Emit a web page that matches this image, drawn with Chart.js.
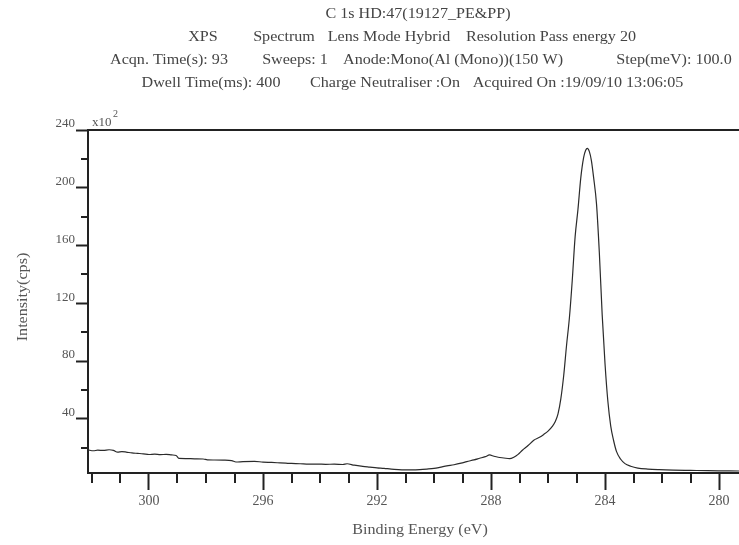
<!DOCTYPE html>
<html>
<head>
<meta charset="utf-8">
<script src="https://cdn.jsdelivr.net/npm/chart.js@4.4.1/dist/chart.umd.min.js"></script>
<style>
html, body { margin: 0; padding: 0; background: #fff; overflow: hidden; }
canvas { display: block; }
</style>
</head>
<body>
<canvas id="xpsChart" width="739" height="545"></canvas>
<script>
//Binding energy (eV)
const energy = [
    302.14, 301.95, 301.8, 301.6, 301.4, 301.25, 301.1, 300.95, 300.8, 300.6,
    300.4, 300.2, 300.0, 299.8, 299.6, 299.4, 299.2, 299.05, 298.95, 298.7,
    298.4, 298.1, 297.95, 297.7, 297.4, 297.1, 296.95, 296.7, 296.3, 296.0,
    295.7, 295.4, 295.2, 295.0, 294.7, 294.4, 294.1, 293.8, 293.5, 293.2,
    293.05, 292.8, 292.5, 292.25, 292.0, 291.75, 291.5, 291.25, 291.0, 290.75,
    290.5, 290.25, 290.0, 289.8, 289.55, 289.3, 289.05, 288.85, 288.6, 288.4,
    288.2, 288.05, 287.9, 287.75, 287.55, 287.35, 287.2, 287.05, 286.9, 286.7,
    286.5, 286.3, 286.15, 286.0, 285.85, 285.75, 285.65, 285.55, 285.45, 285.35,
    285.25, 285.15, 285.05, 284.95, 284.85, 284.75, 284.68, 284.62, 284.55, 284.48,
    284.4, 284.3, 284.2, 284.1, 284.0, 283.9, 283.8, 283.7, 283.6, 283.45,
    283.3, 283.1, 282.85, 282.5, 282.1, 281.6, 281.0, 280.4, 279.8, 279.3
];

//Intensity (x10^2 cps)
const counts = [
    18.5, 17.9, 18.3, 18.1, 18.6, 18.2, 16.9, 17.3, 17.0, 16.4,
    16.1, 15.8, 15.3, 15.6, 15.2, 15.4, 15.0, 14.6, 12.6, 12.5,
    12.3, 12.2, 11.6, 11.5, 11.4, 11.1, 10.1, 10.4, 10.6, 10.0,
    9.8, 9.5, 9.3, 9.1, 8.9, 8.6, 8.7, 8.5, 8.6, 8.4,
    8.9, 7.9, 7.1, 6.6, 6.1, 5.7, 5.2, 4.9, 4.7, 4.6,
    4.8, 5.2, 5.7, 6.4, 7.4, 8.2, 9.3, 10.4, 11.6, 12.7,
    13.8, 15.0, 14.1, 13.4, 12.9, 12.4, 13.4, 15.4, 18.3, 21.5,
    25.2, 27.2, 29.2, 31.5, 34.8, 38.0, 43.5, 54.0, 70.0, 91.0,
    110.0, 136.0, 166.0, 185.0, 207.0, 221.0, 226.0, 227.3, 225.0, 219.0,
    207.0, 189.0, 155.0, 112.0, 78.0, 52.0, 35.0, 25.0, 17.5, 12.0,
    9.0, 7.2, 5.9, 5.2, 4.8, 4.5, 4.3, 4.1, 4.0, 3.9
];

//Ticks
const xMajorTicks = [300, 296, 292, 288, 284, 280];
const xMinorTicks = [302, 301, 299, 298, 297, 295, 294, 293, 291, 290, 289, 287, 286, 285, 283, 282, 281];
const yMajorTicks = [40, 80, 120, 160, 200, 240];
const yMinorTicks = [20, 60, 100, 140, 180, 220];

//Header text, centred on x
const headerLines = [
    { y: 14, parts: [["C 1s HD:47(19127_PE&PP)", 418]] },
    { y: 37, parts: [["XPS", 203], ["Spectrum", 284], ["Lens Mode Hybrid", 389], ["Resolution Pass energy 20", 551]] },
    { y: 60, parts: [["Acqn. Time(s): 93", 169], ["Sweeps: 1", 295], ["Anode:Mono(Al (Mono))(150 W)", 453], ["Step(meV): 100.0", 674]] },
    { y: 83, parts: [["Dwell Time(ms): 400", 211], ["Charge Neutraliser :On", 385], ["Acquired On :19/09/10 13:06:05", 578]] }
];

const serif = '"Liberation Serif", "Times New Roman", serif';
const stretch = 1.15;

function wideText(ctx, text, x, y) {
    ctx.save();
    ctx.translate(x, y);
    ctx.scale(stretch, 1);
    ctx.fillText(text, 0, 0);
    ctx.restore();
}

//Frame, minor ticks and texts
const decor = {
    id: "decor",
    afterDraw(chart) {
        const ctx = chart.ctx;
        const area = chart.chartArea;
        const xs = chart.scales.x;
        const ys = chart.scales.y;

        ctx.save();
        ctx.strokeStyle = "#222";
        ctx.lineWidth = 2;
        ctx.beginPath();
        ctx.moveTo(area.left - 1, area.top);
        ctx.lineTo(area.right, area.top);

        xMinorTicks.forEach(v => {
            const px = Math.round(xs.getPixelForValue(v));
            ctx.moveTo(px, area.bottom);
            ctx.lineTo(px, area.bottom + 10);
        });

        yMinorTicks.forEach(v => {
            const py = Math.round(ys.getPixelForValue(v));
            ctx.moveTo(area.left - 7, py);
            ctx.lineTo(area.left, py);
        });
        ctx.stroke();

        //Header
        ctx.fillStyle = "#444";
        ctx.textBaseline = "middle";
        ctx.textAlign = "center";
        ctx.font = "14px " + serif;
        headerLines.forEach(line => {
            line.parts.forEach(p => wideText(ctx, p[0], p[1], line.y));
        });

        //Axis titles
        ctx.fillStyle = "#555";
        wideText(ctx, "Binding Energy (eV)", 420, 530);

        ctx.save();
        ctx.translate(23, 297);
        ctx.rotate(-Math.PI / 2);
        ctx.font = "14px " + serif;
        wideText(ctx, "Intensity(cps)", 0, 0);
        ctx.restore();

        //Multiplier
        ctx.textAlign = "left";
        ctx.font = "13px " + serif;
        ctx.fillText("x10", 92, 123);
        ctx.font = "10px " + serif;
        ctx.fillText("2", 113, 114);

        ctx.restore();
    }
};

const canvas = document.querySelector("#xpsChart");

new Chart(canvas, {

    type: "line",

    data: {
        datasets: [{
            data: energy.map((e, i) => ({ x: e, y: counts[i] })),
            borderColor: "#2b2b2b",
            borderWidth: 1.2,
            pointRadius: 0,
            fill: false,
            cubicInterpolationMode: "monotone"
        }]
    },

    options: {
        responsive: false,
        animation: false,
        devicePixelRatio: 1,
        layout: { padding: { top: 130, left: 0, right: 0, bottom: 0 } },
        plugins: {
            legend: { display: false },
            tooltip: { enabled: false }
        },
        scales: {
            x: {
                type: "linear",
                reverse: true,
                min: 279.3,
                max: 302.14,
                afterBuildTicks: s => { s.ticks = xMajorTicks.map(v => ({ value: v })); },
                afterFit: s => { s.height = 72; },
                border: { display: true, color: "#222", width: 2 },
                grid: { drawOnChartArea: false, drawTicks: true, tickLength: 17, tickWidth: 2, tickColor: "#222" },
                ticks: {
                    color: "#555",
                    font: { family: serif, size: 14 },
                    padding: 3,
                    maxRotation: 0,
                    autoSkip: false,
                    callback: v => String(v)
                }
            },
            y: {
                type: "linear",
                min: 2.5,
                max: 240,
                afterBuildTicks: s => { s.ticks = yMajorTicks.map(v => ({ value: v })); },
                afterFit: s => { s.width = 88; },
                border: { display: true, color: "#222", width: 2 },
                grid: { drawOnChartArea: false, drawTicks: true, tickLength: 12, tickWidth: 2, tickColor: "#222" },
                ticks: {
                    color: "#555",
                    font: { family: serif, size: 13 },
                    padding: 1,
                    labelOffset: -6,
                    autoSkip: false,
                    callback: v => String(v)
                }
            }
        }
    },

    plugins: [decor]

});
</script>
</body>
</html>
